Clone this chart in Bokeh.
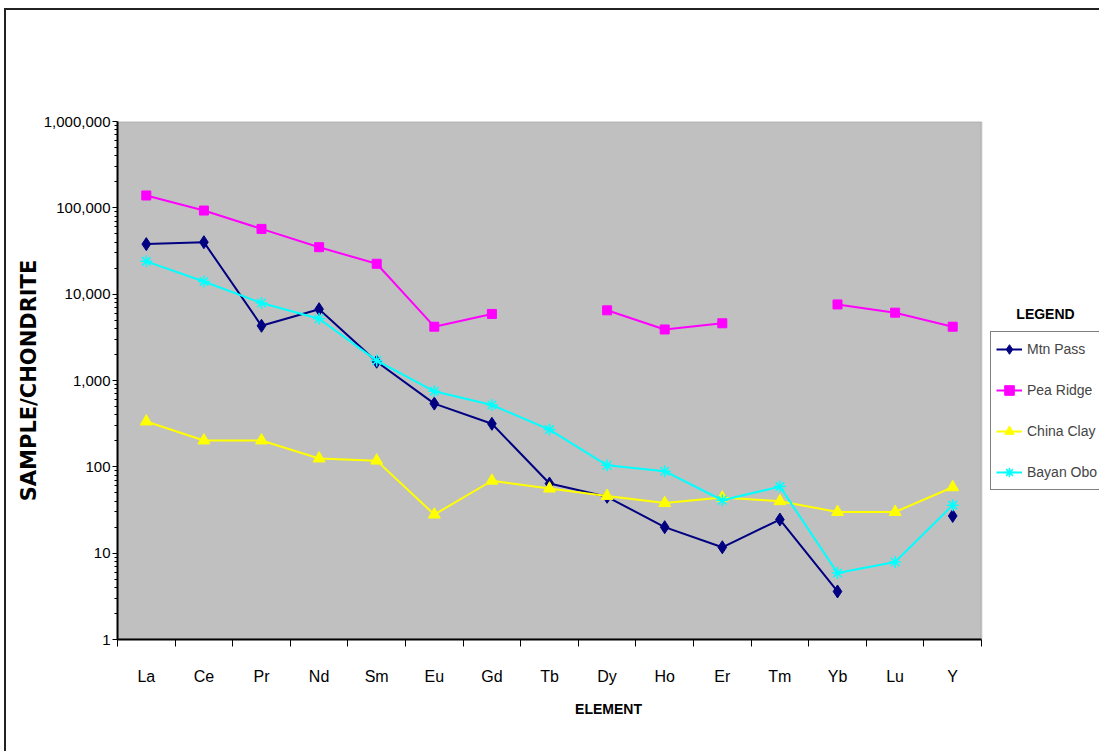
from bokeh.plotting import figure
from bokeh.models import (FixedTicker, NumeralTickFormatter, Legend, LegendItem, Label,
                          Range1d, BoxAnnotation, Title)
from bokeh.embed import file_html
from bokeh.resources import INLINE

elements = ["La", "Ce", "Pr", "Nd", "Sm", "Eu", "Gd", "Tb", "Dy", "Ho", "Er", "Tm", "Yb", "Lu", "Y"]
nan = float("nan")
mtn_pass = [38000, 40000, 4300, 6700, 1650, 540, 315, 64, 45, 20, 11.7, 24.5, 3.6, nan, 27]
pea_ridge = [139000, 93000, 57000, 35000, 22500, 4200, 5900, nan, 6500, 3900, 4600, nan, 7600, 6100, 4200]
china_clay = [335, 202, 202, 125, 118, 28, 69, 56, 46, 38, 44, 40, 30, 30, 58]
bayan_obo = [24000, 14000, 7900, 5200, 1700, 750, 520, 270, 104, 89, 41, 59, 5.9, 7.9, 36]

yticks = [1, 10, 100, 1000, 10000, 100000, 1000000]

FONT = "Liberation Sans"

n = len(elements)
xs = list(range(1, n + 1))
x_lo, x_hi = 0.5, n + 0.5
PLOT_W = 864                      # width of the grey plot area in px
FRAME_W = 982                     # frame extends right to hold the legend
x_end = x_lo + (x_hi - x_lo) * FRAME_W / PLOT_W

p = figure(frame_width=FRAME_W, frame_height=518, output_backend="svg", toolbar_location=None,
           y_axis_type="log", x_range=Range1d(x_lo, x_end),
           y_range=Range1d(yticks[0], yticks[-1]),
           min_border_left=111, min_border_right=0, min_border_top=111, min_border_bottom=112)
p.styles = {"border-left": "2px solid #222", "border-top": "2px solid #222",
            "margin-left": "4px", "margin-top": "8px"}
p.background_fill_color = "white"
p.border_fill_color = "white"
p.outline_line_color = None
p.grid.visible = False

# grey plot area
p.add_layout(BoxAnnotation(left=x_lo, right=x_hi, bottom=yticks[0], top=yticks[-1],
                           fill_color="#C0C0C0", fill_alpha=1, line_color="#808080",
                           line_width=2, level="underlay"))

# x axis
xa = p.xaxis[0]
xa.bounds = (x_lo, x_hi)
xa.ticker = FixedTicker(ticks=xs, minor_ticks=[x - 0.5 for x in xs] + [n + 0.5])
xa.major_label_overrides = {x: e for x, e in zip(xs, elements)}
xa.major_tick_line_color = None
xa.major_tick_out = 0
xa.major_tick_in = 0
xa.minor_tick_line_color = "black"
xa.minor_tick_out = 7
xa.minor_tick_in = 0
xa.axis_line_color = "black"
xa.axis_line_width = 2
xa.major_label_standoff = 21
xa.major_label_text_font = FONT
xa.major_label_text_font_size = "16px"
xa.major_label_text_color = "black"

# x axis title, centred under the grey plot area
p.add_layout(Title(text="ELEMENT", align="center", offset=-(FRAME_W - PLOT_W) / 2,
                   text_font=FONT, text_font_style="bold", text_font_size="14px",
                   text_color="black", standoff=22), "below")

# y axis
ya = p.yaxis[0]
ya.ticker = FixedTicker(ticks=yticks,
                        minor_ticks=[m * t for t in yticks[:-1] for m in range(2, 10)])
ya.formatter = NumeralTickFormatter(format="0,0")
ya.major_tick_out = 5
ya.major_tick_in = 0
ya.minor_tick_out = 3
ya.minor_tick_in = 0
ya.minor_tick_line_color = "black"
ya.axis_line_color = "black"
ya.axis_line_width = 2
ya.major_label_standoff = 2
ya.major_label_text_font = FONT
ya.major_label_text_font_size = "15px"
ya.major_label_text_color = "black"
ya.axis_label = "SAMPLE/CHONDRITE"
ya.axis_label_text_font = "DejaVu Sans"
ya.axis_label_text_font_style = "bold"
ya.axis_label_text_font_size = "21px"
ya.axis_label_text_color = "black"
ya.axis_label_standoff = 0

# series
r1l = p.line(xs, mtn_pass, line_color="#000080", line_width=2)
r1m = p.scatter(xs, mtn_pass, marker="diamond", size=13, fill_color="#000080", line_color="#000080")
r2l = p.line(xs, pea_ridge, line_color="#FF00FF", line_width=2)
r2m = p.scatter(xs, pea_ridge, marker="square", size=9, fill_color="#FF00FF", line_color="#FF00FF")
r3l = p.line(xs, china_clay, line_color="#FFFF00", line_width=2)
r3m = p.scatter(xs, china_clay, marker="triangle", size=12, fill_color="#FFFF00", line_color="#FFFF00")
r4l = p.line(xs, bayan_obo, line_color="#00FFFF", line_width=2)
r4m = p.scatter(xs, bayan_obo, marker="asterisk", size=12, line_color="#00FFFF", line_width=1.5)

legend = Legend(items=[
    LegendItem(label="Mtn Pass", renderers=[r1l, r1m]),
    LegendItem(label="Pea Ridge", renderers=[r2l, r2m]),
    LegendItem(label="China Clay", renderers=[r3l, r3m]),
    LegendItem(label="Bayan Obo", renderers=[r4l, r4m]),
], location=(873, 149))
legend.border_line_color = "black"
legend.border_line_width = 1.5
legend.background_fill_color = "white"
legend.background_fill_alpha = 1
legend.label_text_font = FONT
legend.label_text_font_size = "14px"
legend.glyph_width = 26
legend.glyph_height = 24
legend.label_height = 24
legend.spacing = 17
legend.padding = 5
legend.margin = 0
legend.label_standoff = 5
p.add_layout(legend, "center")

p.add_layout(Label(x=928, y=326, x_units="screen", y_units="screen", text="LEGEND",
                   text_font=FONT, text_font_style="bold", text_font_size="14px",
                   text_align="center", text_baseline="middle", text_color="black"))

open("out.html", "w").write(file_html(p, INLINE))
